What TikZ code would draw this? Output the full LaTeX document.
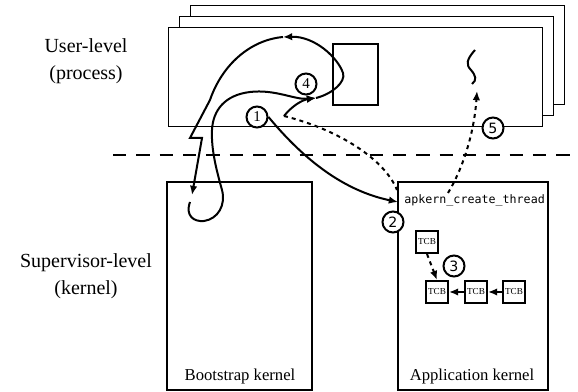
\documentclass[tikz,border=0pt]{standalone}
\usepackage{fontspec}
\setmainfont{Liberation Serif}
\setsansfont{DejaVu Sans}
\newfontfamily\codefont{DejaVu Sans Mono}
\usetikzlibrary{arrows.meta}

\tikzset{
  flow/.style={very thick,-{Latex[length=5.5pt,width=4.5pt]}},
  dots/.style={very thick,dash pattern=on 2.4pt off 2.4pt},
  num/.style={circle,draw,very thick,fill=white,minimum size=12.6pt,inner sep=0pt,
    font=\fontsize{9}{10}\selectfont},
  snum/.style={num,font=\sffamily\fontsize{8.5}{10}\selectfont},
  tcb/.style={draw,very thick,fill=white,minimum size=13.2pt,inner sep=0pt,
    font=\fontsize{5.5}{6}\selectfont},
}

\begin{document}
\begin{tikzpicture}[x=0.6pt,y=-0.6pt]
\useasboundingbox (0,0) rectangle (578,392);

% stack of processes, back one first
\foreach \d in {2,1,0}
  \draw[semithick,fill=white] (168+11*\d,28-11*\d) rectangle (542+11*\d,127-11*\d);
\draw[very thick] (333,44) rectangle (378,105);
% thread
\draw[very thick] (475,50) .. controls (466,60) and (466,65) .. (471,70)
  .. controls (476,76) and (477,80) .. (472,84);

% user / supervisor boundary
\draw[line width=1.4pt,dash pattern=on 8pt off 6pt] (113,155) -- (578,155);

\node[align=center,font=\fontsize{12}{16}\selectfont] (ulvl) at (86,61) {User-level\\(process)};
\node[align=center,font=\fontsize{12}{16}\selectfont] (slvl) at (86,276) {Supervisor-level\\(kernel)};

% kernels
\draw[very thick] (167,182) rectangle (312,390);
\node (bk) at (240,376) {Bootstrap kernel};
\draw[very thick] (398,182) rectangle (548,390);
\node (ak) at (472,376) {Application kernel};
\node[anchor=west,inner sep=0pt,font=\codefont\fontsize{7}{8}\selectfont] (call) at (404,200)
  {apkern\_create\_thread};

\coordinate (callin) at (398,202);
\coordinate (retend) at (397,190);
\coordinate (spawn) at (448,193);
\coordinate (thr) at (477,91);
\coordinate (ret) at (284,116);
\coordinate (entry) at (316,98);
\coordinate (beak) at (343,73);
\coordinate (back) at (283,37);
\coordinate (zig) at (190,138);
\coordinate (zag) at (202,138);
\coordinate (boot) at (192,195);
\coordinate (loop) at (190,202);

% call into the kernel and back
\node[num] (n1) at (257,117) {1};
\draw[flow] (n1.east) .. controls (300,155) and (340,190) .. (callin);
\draw[dots] (ret) .. controls (340,130) and (385,160) .. (retend);
\draw[flow,dots] (spawn) .. controls (462,170) and (474,135) .. (thr);

% round trip through the bootstrap kernel
\draw[flow] (ret) .. controls (292,106) and (302,100) .. (entry);
\draw[flow] (loop) .. controls (185,216) and (194,222) .. (204,221)
  .. controls (218,219) and (226,205) .. (222,190)
  .. controls (217,172) and (211,150) .. (212,130)
  .. controls (213,110) and (225,95) .. (250,92)
  .. controls (275,89) and (295,100) .. (entry);
\draw[flow] (entry) .. controls (332,94) and (346,82) .. (beak)
  .. controls (338,58) and (315,36) .. (back);
\draw[flow] (back) .. controls (250,40) and (222,65) .. (210,100) -- (zig) -- (zag) -- (boot);

% thread control blocks
\node[tcb] (t0) at (427,242) {TCB};
\node[tcb] (t1) at (437,292) {TCB};
\node[tcb] (t2) at (476,292) {TCB};
\node[tcb] (t3) at (514,292) {TCB};
\draw[flow] (t3) -- (t2);
\draw[flow] (t2) -- (t1);
\draw[flow,dots] (t0.south) -- (t1.north);

\node[snum] (n2) at (393,222) {2};
\node[snum] (n3) at (454,266) {3};
\node[num] (n4) at (306,84) {4};
\node[snum] (n5) at (493,128) {5};
\end{tikzpicture}
\end{document}
